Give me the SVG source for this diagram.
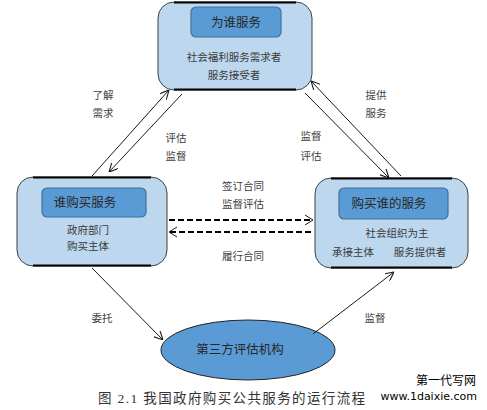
<svg xmlns="http://www.w3.org/2000/svg" width="487" height="410" viewBox="0 0 487 410">
<defs>
<style>
.box{fill:#BDD7EE;stroke:#404040;stroke-width:1}
.edge{stroke:#000;stroke-width:2}
.inner{fill:#5B9BD5;stroke:#41719C;stroke-width:1.2}
.t{font-family:"Noto Sans CJK SC","Liberation Serif",serif;fill:#262626;text-anchor:middle}
.title{font-size:12.5px}
.body{font-size:10.5px;fill:#3a3a3a}
.lbl{font-size:10.5px;fill:#404040}
.ln{stroke:#1a1a1a;stroke-width:1;fill:none}
.dash{stroke:#000;stroke-width:2;stroke-dasharray:6 3;fill:none}
</style>
<marker id="ah" viewBox="0 0 10 10" refX="10" refY="5" markerWidth="9" markerHeight="9" markerUnits="userSpaceOnUse" orient="auto">
<path d="M0,0 L10,5 L0,10" fill="none" stroke="#1a1a1a" stroke-width="1.2"/>
</marker>
</defs>
<rect width="487" height="410" fill="#fff"/>

<g id="top">
<rect class="box" x="158" y="2" width="154" height="88" rx="16"/>
<line class="edge" x1="174" y1="2.5" x2="296" y2="2.5"/>
<line class="edge" x1="174" y1="89.5" x2="296" y2="89.5"/>
<rect class="inner" x="191" y="7" width="90" height="30" rx="5"/>
<text class="t title" x="236" y="27">为谁服务</text>
<text class="t body" x="234" y="61">社会福利服务需求者</text>
<text class="t body" x="234" y="79">服务接受者</text>
</g>

<g id="left">
<rect class="box" x="17" y="177" width="150" height="89" rx="16"/>
<line class="edge" x1="33" y1="177.5" x2="151" y2="177.5"/>
<line class="edge" x1="33" y1="265.5" x2="151" y2="265.5"/>
<rect class="inner" x="42" y="188" width="104" height="29" rx="5"/>
<text class="t title" x="85" y="207">谁购买服务</text>
<text class="t body" x="88" y="234">政府部门</text>
<text class="t body" x="88" y="250">购买主体</text>
</g>

<g id="right">
<rect class="box" x="315" y="178" width="153" height="90" rx="16"/>
<line class="edge" x1="331" y1="178.5" x2="452" y2="178.5"/>
<line class="edge" x1="331" y1="267.5" x2="452" y2="267.5"/>
<rect class="inner" x="339" y="188" width="109" height="31" rx="5"/>
<text class="t title" x="389" y="208">购买谁的服务</text>
<text class="t body" x="397" y="237">社会组织为主</text>
<text class="t body" x="353" y="256">承接主体</text>
<text class="t body" x="420" y="256">服务提供者</text>
</g>

<g id="third">
<ellipse cx="248" cy="350" rx="87" ry="30" fill="#5B9BD5" stroke="#262626" stroke-width="1"/>
<text class="t title" x="240" y="354">第三方评估机构</text>
</g>

<g id="connectors">
<line class="ln" x1="92" y1="176" x2="169" y2="90" marker-end="url(#ah)"/>
<line class="ln" x1="182" y1="94" x2="109" y2="172" marker-end="url(#ah)"/>
<line class="ln" x1="401" y1="176" x2="311" y2="81" marker-end="url(#ah)"/>
<line class="ln" x1="305" y1="93" x2="389" y2="178" marker-end="url(#ah)"/>
<line class="dash" x1="169" y1="220" x2="312" y2="220"/>
<path class="ln" d="M305,215 L313,220 L305,225" stroke-width="1.2"/>
<line class="dash" x1="311" y1="232" x2="170" y2="232"/>
<path class="ln" d="M177,227 L169,232 L177,237" stroke-width="1.2"/>
<line class="ln" x1="92" y1="268" x2="163" y2="340" marker-end="url(#ah)"/>
<line class="ln" x1="313" y1="334" x2="394" y2="272" marker-end="url(#ah)"/>
</g>

<g id="labels">
<text class="t lbl" x="103" y="99">了解</text>
<text class="t lbl" x="103" y="117">需求</text>
<text class="t lbl" x="176" y="142">评估</text>
<text class="t lbl" x="176" y="160">监督</text>
<text class="t lbl" x="376" y="99">提供</text>
<text class="t lbl" x="376" y="117">服务</text>
<text class="t lbl" x="311" y="140">监督</text>
<text class="t lbl" x="311" y="160">评估</text>
<text class="t lbl" x="243" y="190">签订合同</text>
<text class="t lbl" x="243" y="208">监督评估</text>
<text class="t lbl" x="243" y="260">履行合同</text>
<text class="t lbl" x="102" y="322">委托</text>
<text class="t lbl" x="375" y="322">监督</text>
</g>

<text x="98" y="403" font-family="Liberation Serif,'Noto Sans CJK SC',serif" font-size="13.5" fill="#333" textLength="267" lengthAdjust="spacing">图 2.1 我国政府购买公共服务的运行流程</text>
<text x="476" y="385" font-family="'Noto Sans CJK SC',sans-serif" font-size="12" fill="#000" text-anchor="end">第一代写网</text>
<text x="477" y="400" font-family="'DejaVu Sans',sans-serif" font-size="11" fill="#000" text-anchor="end">www.1daixie.com</text>
</svg>
